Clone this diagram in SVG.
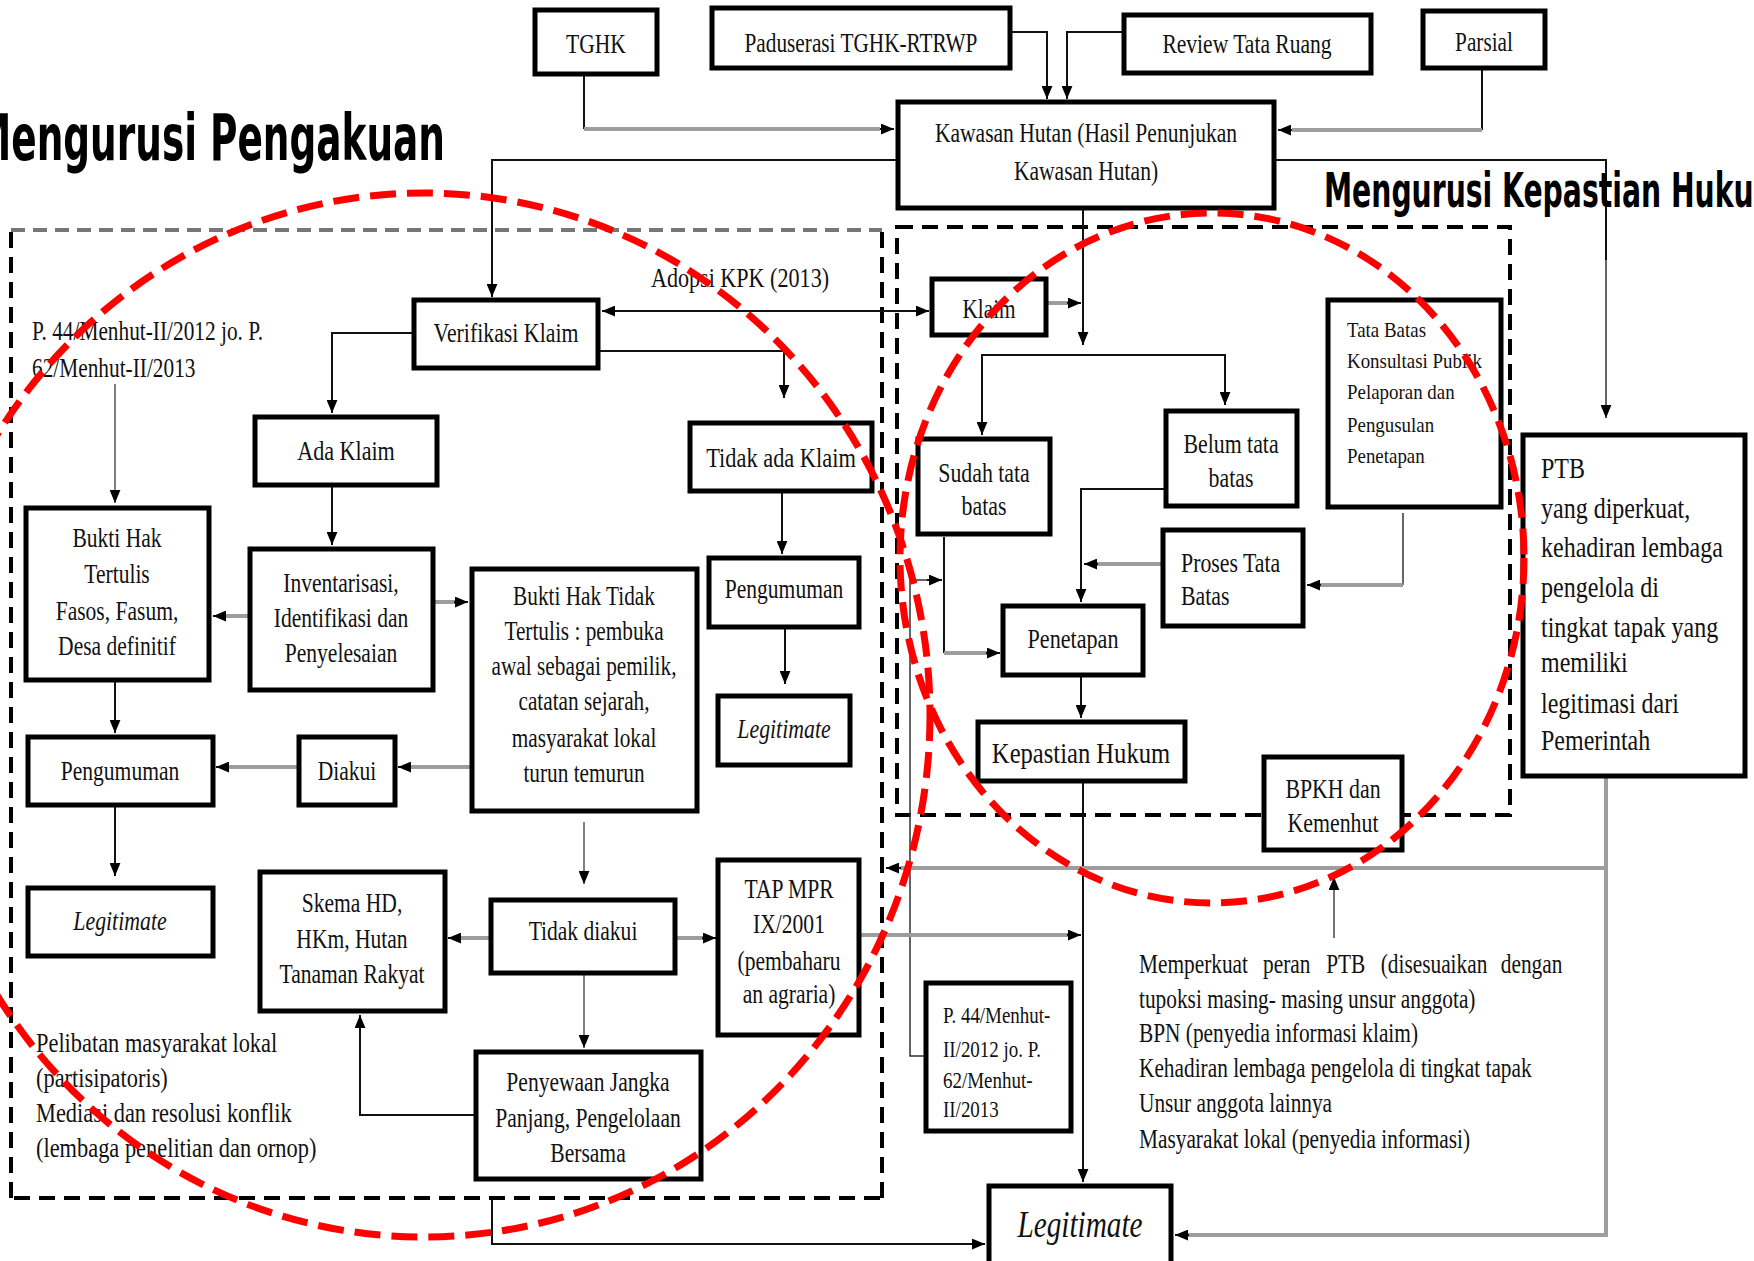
<svg xmlns="http://www.w3.org/2000/svg" width="1754" height="1261" viewBox="0 0 1754 1261">
  <defs>
    <style>
      .box { fill: #fff; stroke: #000; stroke-width: 5; }
      .t { font-family: "Liberation Serif", "Times New Roman", serif; font-size: 28px; fill: #111; text-anchor: middle; }
      .l { text-anchor: start; }
      .it { font-style: italic; }
      .ln { fill: none; stroke: #111; stroke-width: 2; }
      .gl { fill: none; stroke: #9d9d9d; stroke-width: 4; }
      .dash { fill: none; stroke: #000; stroke-width: 4; stroke-dasharray: 16 9; }
      .gdash { fill: none; stroke: #777; stroke-width: 4; stroke-dasharray: 14 8; }
      .red { fill: none; stroke: #f00; stroke-width: 7; stroke-dasharray: 26 11; }
      .title { font-family: "DejaVu Sans Condensed", "Liberation Sans Narrow", sans-serif; font-weight: bold; fill: #000; }
    </style>
    <marker id="arr" viewBox="0 0 12 10" refX="12" refY="5" markerWidth="13" markerHeight="11" markerUnits="userSpaceOnUse" orient="auto-start-reverse">
      <path d="M0,0 L12,5 L0,10 Z" fill="#000"/>
    </marker>
  </defs>

  <rect width="1754" height="1261" fill="#fff"/>

  <!-- section frames -->
  <g id="frames">
    <line class="gdash" x1="11" y1="230" x2="882" y2="230"/>
    <line class="dash" x1="11" y1="232" x2="11" y2="1198"/>
    <line class="dash" x1="882" y1="232" x2="882" y2="1198"/>
    <line class="dash" x1="14" y1="1198" x2="882" y2="1198"/>
    <rect class="dash" x="897" y="227" width="613" height="588"/>
  </g>

  <!-- connectors -->
  <g id="connectors">
    <!-- inputs into Kawasan Hutan -->
    <path class="ln" d="M584,76 V129"/>
    <path class="gl" d="M584,129 H880"/>
    <path class="ln" d="M880,129 H894" marker-end="url(#arr)"/>
    <path class="ln" d="M1012,32 H1047 V99" marker-end="url(#arr)"/>
    <path class="ln" d="M1122,32 H1067 V99" marker-end="url(#arr)"/>
    <path class="ln" d="M1482,70 V130"/>
    <path class="gl" d="M1482,130 H1292"/>
    <path class="ln" d="M1292,130 H1278" marker-end="url(#arr)"/>
    <!-- Kawasan Hutan outputs -->
    <path class="ln" d="M896,160 H492 V297" marker-end="url(#arr)"/>
    <path class="ln" d="M1276,160 H1606 V260"/>
    <path fill="none" stroke="#666" stroke-width="2" d="M1606,260 V418" marker-end="url(#arr)"/>
    <path class="ln" d="M1083,210 V345" marker-end="url(#arr)"/>
    <!-- left branch -->
    <path class="ln" d="M602,311 H929" marker-start="url(#arr)" marker-end="url(#arr)"/>
    <path class="ln" d="M412,333 H332 V413" marker-end="url(#arr)"/>
    <path class="ln" d="M600,351 H784 V398" marker-end="url(#arr)"/>
    <path class="ln" d="M332,487 V545" marker-end="url(#arr)"/>
    <path class="gl" d="M248,616 H225"/>
    <path class="ln" d="M226,616 H213" marker-end="url(#arr)"/>
    <path class="gl" d="M435,602 H455"/>
    <path class="ln" d="M454,602 H468" marker-end="url(#arr)"/>
    <path fill="none" stroke="#555" stroke-width="1.5" d="M115,384 V503" marker-end="url(#arr)"/>
    <path class="ln" d="M115,682 V733" marker-end="url(#arr)"/>
    <path class="gl" d="M297,767 H228"/>
    <path class="ln" d="M229,767 H216" marker-end="url(#arr)"/>
    <path class="gl" d="M470,767 H410"/>
    <path class="ln" d="M411,767 H398" marker-end="url(#arr)"/>
    <path class="ln" d="M115,807 V876" marker-end="url(#arr)"/>
    <path fill="none" stroke="#555" stroke-width="1.5" d="M584,822 V884" marker-end="url(#arr)"/>
    <path class="ln" d="M782,493 V554" marker-end="url(#arr)"/>
    <path class="ln" d="M785,629 V684" marker-end="url(#arr)"/>
    <path class="gl" d="M489,938 H460"/>
    <path class="ln" d="M461,938 H448" marker-end="url(#arr)"/>
    <path class="gl" d="M677,938 H703"/>
    <path class="ln" d="M702,938 H716" marker-end="url(#arr)"/>
    <path fill="none" stroke="#555" stroke-width="1.5" d="M584,975 V1048" marker-end="url(#arr)"/>
    <path class="ln" d="M474,1115 H360 V1015" marker-end="url(#arr)"/>
    <path class="ln" d="M492,1200 V1244 H985" marker-end="url(#arr)"/>
    <!-- right branch -->
    <path class="gl" d="M1048,303 H1068"/>
    <path class="ln" d="M1067,303 H1081" marker-end="url(#arr)"/>
    <path class="ln" d="M1083,355 H982 V435" marker-end="url(#arr)"/>
    <path class="ln" d="M1083,355 H1225 V405" marker-end="url(#arr)"/>
    <path class="ln" d="M1164,489 H1081 V602" marker-end="url(#arr)"/>
    <path class="gl" d="M1161,564 H1097"/>
    <path class="ln" d="M1098,564 H1084" marker-end="url(#arr)"/>
    <path fill="none" stroke="#333" stroke-width="1.5" d="M1403,513 V585"/>
    <path class="gl" d="M1403,585 H1320"/>
    <path class="ln" d="M1321,585 H1307" marker-end="url(#arr)"/>
    <path class="ln" d="M944,537 V653"/>
    <path class="gl" d="M944,653 H987"/>
    <path class="ln" d="M986,653 H1000" marker-end="url(#arr)"/>
    <path fill="none" stroke="#333" stroke-width="1.5" d="M924,1056 H910 V580 H928"/>
    <path class="ln" d="M927,580 H942" marker-end="url(#arr)"/>
    <path class="ln" d="M1081,677 V718" marker-end="url(#arr)"/>
    <path class="ln" d="M1083,783 V1182" marker-end="url(#arr)"/>
    <!-- PTB and shared gray links -->
    <path class="gl" d="M1606,778 V1235 H1188"/>
    <path class="ln" d="M1189,1235 H1175" marker-end="url(#arr)"/>
    <path class="gl" d="M1606,868 H900"/>
    <path class="ln" d="M901,868 H886" marker-end="url(#arr)"/>
    <path fill="none" stroke="#444" stroke-width="1.5" d="M1334,938 V877" marker-end="url(#arr)"/>
    <path class="gl" d="M861,935 H1068"/>
    <path class="ln" d="M1067,935 H1081" marker-end="url(#arr)"/>
  </g>

  <!-- top inputs -->
  <g id="n-tghk">
    <rect class="box" x="535" y="10" width="122" height="64"/>
    <text class="t" transform="translate(596 53) scale(.77 1)">TGHK</text>
  </g>
  <g id="n-paduserasi">
    <rect class="box" x="712" y="8" width="298" height="60"/>
    <text class="t" transform="translate(861 52) scale(.76 1)">Paduserasi TGHK-RTRWP</text>
  </g>
  <g id="n-review">
    <rect class="box" x="1124" y="15" width="247" height="58"/>
    <text class="t" transform="translate(1247 53) scale(.77 1)">Review Tata Ruang</text>
  </g>
  <g id="n-parsial">
    <rect class="box" x="1423" y="11" width="122" height="57"/>
    <text class="t" transform="translate(1484 51) scale(.76 1)">Parsial</text>
  </g>
  <g id="n-kawasan">
    <rect class="box" x="898" y="102" width="376" height="106"/>
    <text class="t" transform="translate(1086 142) scale(.77 1)"><tspan x="0">Kawasan Hutan (Hasil Penunjukan</tspan><tspan x="0" y="38">Kawasan Hutan)</tspan></text>
  </g>

  <!-- recognition section -->
  <g id="lbl-adopsi">
    <text class="t" transform="translate(740 287) scale(.79 1)">Adopsi KPK (2013)</text>
  </g>
  <g id="lbl-p44-left">
    <text class="t l" transform="translate(32 340) scale(.79 1)" style="font-size:27px"><tspan x="0">P. 44/Menhut-II/2012 jo. P.</tspan><tspan x="0" y="37">62/Menhut-II/2013</tspan></text>
  </g>
  <g id="n-verifikasi">
    <rect class="box" x="414" y="300" width="184" height="68"/>
    <text class="t" transform="translate(506 342) scale(.78 1)">Verifikasi Klaim</text>
  </g>
  <g id="n-ada-klaim">
    <rect class="box" x="255" y="417" width="182" height="68"/>
    <text class="t" transform="translate(346 460) scale(.79 1)">Ada Klaim</text>
  </g>
  <g id="n-tidak-ada-klaim">
    <rect class="box" x="690" y="423" width="182" height="68"/>
    <text class="t" transform="translate(781 467) scale(.8 1)">Tidak ada Klaim</text>
  </g>
  <g id="n-inventarisasi">
    <rect class="box" x="250" y="549" width="183" height="141"/>
    <text class="t" transform="translate(341 592) scale(.77 1)"><tspan x="0">Inventarisasi,</tspan><tspan x="0" y="35">Identifikasi  dan</tspan><tspan x="0" y="70">Penyelesaian</tspan></text>
  </g>
  <g id="n-bukti-tertulis">
    <rect class="box" x="26" y="508" width="183" height="172"/>
    <text class="t" transform="translate(117 547) scale(.77 1)"><tspan x="0">Bukti Hak</tspan><tspan x="0" y="36">Tertulis</tspan><tspan x="0" y="73">Fasos, Fasum,</tspan><tspan x="0" y="108">Desa definitif</tspan></text>
  </g>
  <g id="n-bukti-tidak-tertulis">
    <rect class="box" x="472" y="569" width="225" height="242"/>
    <text class="t" transform="translate(584 605) scale(.76 1)"><tspan x="0">Bukti Hak Tidak</tspan><tspan x="0" y="35">Tertulis : pembuka</tspan><tspan x="0" y="70">awal sebagai pemilik,</tspan><tspan x="0" y="105">catatan sejarah,</tspan><tspan x="0" y="142">masyarakat lokal</tspan><tspan x="0" y="177">turun temurun</tspan></text>
  </g>
  <g id="n-pengumuman-r">
    <rect class="box" x="709" y="558" width="150" height="69"/>
    <text class="t" transform="translate(784 598) scale(.77 1)">Pengumuman</text>
  </g>
  <g id="n-legitimate-r">
    <rect class="box" x="718" y="696" width="132" height="69"/>
    <text class="t it" transform="translate(784 738) scale(.78 1)">Legitimate</text>
  </g>
  <g id="n-pengumuman-l">
    <rect class="box" x="28" y="737" width="185" height="68"/>
    <text class="t" transform="translate(120 780) scale(.77 1)">Pengumuman</text>
  </g>
  <g id="n-diakui">
    <rect class="box" x="299" y="737" width="96" height="68"/>
    <text class="t" transform="translate(347 780) scale(.77 1)">Diakui</text>
  </g>
  <g id="n-legitimate-l">
    <rect class="box" x="28" y="888" width="185" height="68"/>
    <text class="t it" transform="translate(120 930) scale(.78 1)">Legitimate</text>
  </g>
  <g id="n-skema">
    <rect class="box" x="260" y="872" width="185" height="139"/>
    <text class="t" transform="translate(352 912) scale(.77 1)"><tspan x="0">Skema HD,</tspan><tspan x="0" y="36">HKm, Hutan</tspan><tspan x="0" y="71">Tanaman Rakyat</tspan></text>
  </g>
  <g id="n-tidak-diakui">
    <rect class="box" x="491" y="900" width="184" height="73"/>
    <text class="t" transform="translate(583 940) scale(.77 1)">Tidak diakui</text>
  </g>
  <g id="n-tap-mpr">
    <rect class="box" x="718" y="860" width="141" height="175"/>
    <text class="t" transform="translate(789 898) scale(.77 1)"><tspan x="0">TAP MPR</tspan><tspan x="0" y="35">IX/2001</tspan><tspan x="0" y="72">(pembaharu</tspan><tspan x="0" y="105">an agraria)</tspan></text>
  </g>
  <g id="n-penyewaan">
    <rect class="box" x="476" y="1052" width="225" height="127"/>
    <text class="t" transform="translate(588 1091) scale(.77 1)"><tspan x="0">Penyewaan Jangka</tspan><tspan x="0" y="36">Panjang, Pengelolaan</tspan><tspan x="0" y="71">Bersama</tspan></text>
  </g>
  <g id="lbl-pelibatan">
    <text class="t l" transform="translate(36 1052) scale(.8 1)"><tspan x="0">Pelibatan masyarakat lokal</tspan><tspan x="0" y="35">(partisipatoris)</tspan><tspan x="0" y="70">Mediasi dan resolusi konflik</tspan><tspan x="0" y="105">(lembaga penelitian dan ornop)</tspan></text>
  </g>

  <!-- legal certainty section -->
  <g id="n-klaim">
    <rect class="box" x="932" y="279" width="114" height="56"/>
    <text class="t" transform="translate(989 318) scale(.76 1)">Klaim</text>
  </g>
  <g id="n-sudah">
    <rect class="box" x="918" y="439" width="132" height="95"/>
    <text class="t" transform="translate(984 482) scale(.78 1)"><tspan x="0">Sudah tata</tspan><tspan x="0" y="33">batas</tspan></text>
  </g>
  <g id="n-belum">
    <rect class="box" x="1166" y="411" width="131" height="95"/>
    <text class="t" transform="translate(1231 453) scale(.78 1)"><tspan x="0">Belum tata</tspan><tspan x="0" y="34">batas</tspan></text>
  </g>
  <g id="n-tata-batas">
    <rect class="box" x="1328" y="300" width="173" height="207"/>
    <text class="t l" transform="translate(1347 337) scale(.86 1)" style="font-size:22px"><tspan x="0">Tata Batas</tspan><tspan x="0" y="31">Konsultasi Publik</tspan><tspan x="0" y="62">Pelaporan dan</tspan><tspan x="0" y="95">Pengusulan</tspan><tspan x="0" y="126">Penetapan</tspan></text>
  </g>
  <g id="n-proses">
    <rect class="box" x="1163" y="530" width="140" height="96"/>
    <text class="t l" transform="translate(1181 572) scale(.78 1)"><tspan x="0">Proses Tata</tspan><tspan x="0" y="33">Batas</tspan></text>
  </g>
  <g id="n-penetapan">
    <rect class="box" x="1003" y="606" width="140" height="69"/>
    <text class="t" transform="translate(1073 648) scale(.79 1)">Penetapan</text>
  </g>
  <g id="n-kepastian">
    <rect class="box" x="978" y="722" width="207" height="59"/>
    <text class="t" transform="translate(1081 763) scale(.82 1)" style="font-size:30px">Kepastian Hukum</text>
  </g>
  <g id="n-bpkh">
    <rect class="box" x="1264" y="757" width="138" height="93"/>
    <text class="t" transform="translate(1333 798) scale(.78 1)"><tspan x="0">BPKH dan</tspan><tspan x="0" y="34">Kemenhut</tspan></text>
  </g>
  <g id="n-ptb">
    <rect class="box" x="1523" y="435" width="222" height="341"/>
    <text class="t l" transform="translate(1541 478) scale(.8 1)" style="font-size:30px"><tspan x="0">PTB</tspan><tspan x="0" y="40">yang diperkuat,</tspan><tspan x="0" y="79">kehadiran lembaga</tspan><tspan x="0" y="119">pengelola di</tspan><tspan x="0" y="159">tingkat tapak yang</tspan><tspan x="0" y="194">memiliki</tspan><tspan x="0" y="235">legitimasi dari</tspan><tspan x="0" y="272">Pemerintah</tspan></text>
  </g>
  <g id="n-p44-box">
    <rect class="box" x="926" y="983" width="145" height="148"/>
    <text class="t l" transform="translate(943 1023) scale(.79 1)" style="font-size:24px"><tspan x="0">P. 44/Menhut-</tspan><tspan x="0" y="34">II/2012 jo. P.</tspan><tspan x="0" y="65">62/Menhut-</tspan><tspan x="0" y="94">II/2013</tspan></text>
  </g>
  <g id="lbl-memperkuat">
    <text class="t l" transform="translate(1139 973) scale(.79 1)" style="font-size:27px"><tspan x="0">Memperkuat</tspan><tspan x="157">peran</tspan><tspan x="237">PTB</tspan><tspan x="306">(disesuaikan</tspan><tspan x="458">dengan</tspan><tspan x="0" y="35">tupoksi masing- masing unsur anggota)</tspan><tspan x="0" y="69">BPN (penyedia informasi klaim)</tspan><tspan x="0" y="104">Kehadiran lembaga pengelola di tingkat tapak</tspan><tspan x="0" y="139">Unsur anggota lainnya</tspan><tspan x="0" y="175">Masyarakat lokal (penyedia informasi)</tspan></text>
  </g>
  <g id="n-legitimate-final">
    <rect class="box" x="989" y="1186" width="182" height="90"/>
    <text class="t it" transform="translate(1080 1237) scale(.77 1)" style="font-size:38px">Legitimate</text>
  </g>

  <!-- section titles -->
  <g id="titles">
    <text class="title" x="-26" y="160" font-size="64" textLength="471" lengthAdjust="spacingAndGlyphs">Mengurusi Pengakuan</text>
    <text class="title" x="1324" y="207" font-size="48" textLength="459" lengthAdjust="spacingAndGlyphs">Mengurusi Kepastian Hukum</text>
  </g>

  <!-- highlight rings -->
  <g id="rings">
    <ellipse class="red" cx="424" cy="715" rx="506" ry="522"/>
    <ellipse class="red" cx="1212" cy="558" rx="312" ry="345"/>
  </g>
</svg>
